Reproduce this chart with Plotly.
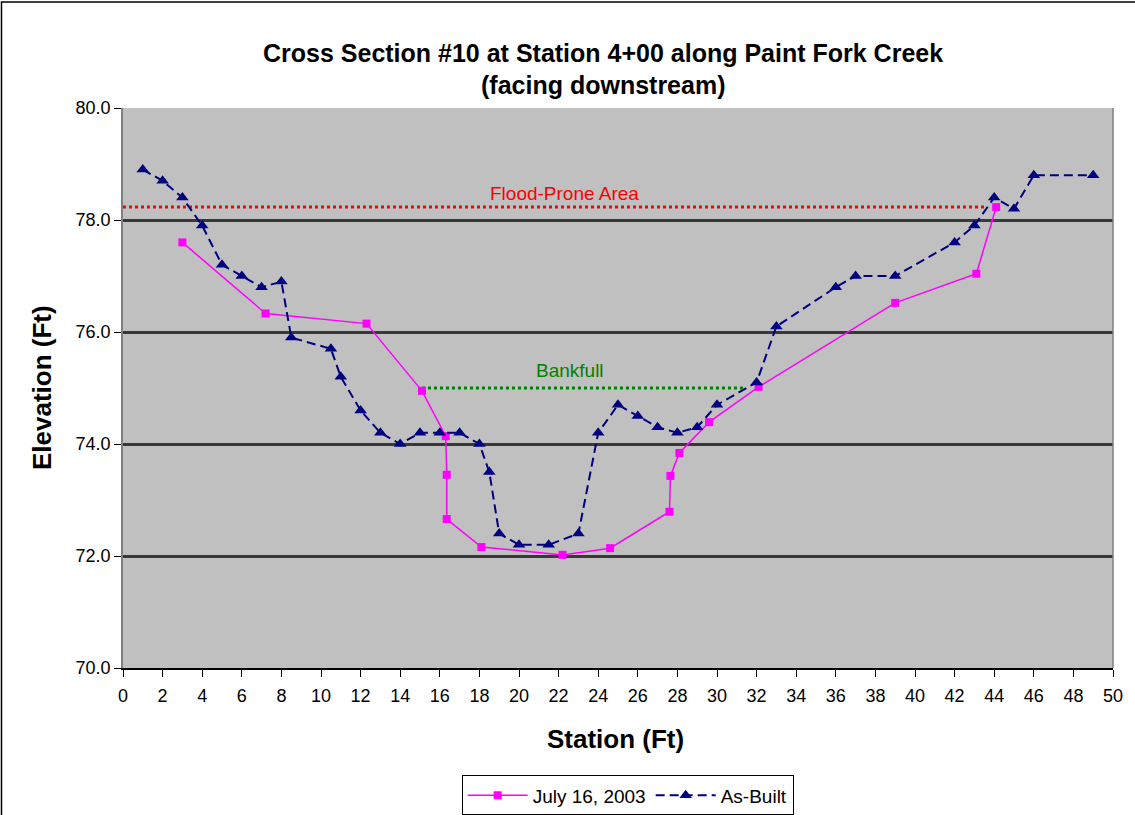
import plotly.graph_objects as go

# Survey of July 16, 2003
july_station = [3.0, 7.2, 12.3, 15.1, 16.3, 16.35, 16.35, 18.1, 22.2, 24.6,
                27.6, 27.65, 28.1, 29.6, 32.1, 39.0, 43.1, 44.1]
july_elev = [77.6, 76.33, 76.15, 74.95, 74.14, 73.45, 72.66, 72.16, 72.02, 72.14,
             72.79, 73.43, 73.84, 74.39, 75.02, 76.52, 77.04, 78.23]

# As-built survey
asbuilt_station = [1, 2, 3, 4, 5, 6, 7, 8, 8.5, 10.5, 11, 12, 13, 14, 15, 16, 17, 18,
                   18.5, 19, 20, 21.5, 23, 24, 25, 26, 27, 28, 29, 30, 32, 33, 36,
                   37, 39, 42, 43, 44, 45, 46, 49]
asbuilt_elev = [78.9, 78.7, 78.4, 77.9, 77.2, 77.0, 76.8, 76.9, 75.9, 75.7, 75.2, 74.6,
                74.2, 74.0, 74.2, 74.2, 74.2, 74.0, 73.5, 72.4, 72.2, 72.2, 72.4, 74.2,
                74.7, 74.5, 74.3, 74.2, 74.3, 74.7, 75.1, 76.1, 76.8, 77.0, 77.0, 77.6,
                77.9, 78.4, 78.2, 78.8, 78.8]

# Reference elevations
flood_station = [0, 43.6]
flood_elev = [78.23, 78.23]
bankfull_station = [15.1, 31.4]
bankfull_elev = [75.0, 75.0]

x_ticks = list(range(0, 51, 2))
y_ticks = [70, 72, 74, 76, 78, 80]

FONT = "Liberation Sans, Arial, sans-serif"

fig = go.Figure()

fig.add_trace(go.Scatter(
    x=flood_station, y=flood_elev, mode="lines", showlegend=False,
    line=dict(color="#FF0000", width=3, dash="dot"), hoverinfo="skip"))
fig.add_trace(go.Scatter(
    x=bankfull_station, y=bankfull_elev, mode="lines", showlegend=False,
    line=dict(color="#008000", width=3, dash="dot"), hoverinfo="skip"))

fig.add_trace(go.Scatter(
    x=july_station, y=july_elev, mode="lines+markers", name="July 16, 2003",
    line=dict(color="#FF00FF", width=1.5),
    marker=dict(symbol="square", size=8, color="#FF00FF")))
fig.add_trace(go.Scatter(
    x=asbuilt_station, y=asbuilt_elev, mode="lines+markers", name="As-Built",
    line=dict(color="#000080", width=2, dash="9px,5px"),
    marker=dict(symbol="triangle-up", size=11, color="#000080")))

fig.add_annotation(x=22.3, y=78.23, yshift=14, text="Flood-Prone Area", showarrow=False,
                   font=dict(family=FONT, size=19, color="#FF0000"))
fig.add_annotation(x=22.6, y=75.0, yshift=18, text="Bankfull", showarrow=False,
                   font=dict(family=FONT, size=19, color="#008000"))

# Titles
fig.add_annotation(xref="paper", yref="paper", x=0.485, y=1.0, yshift=55,
                   yanchor="middle", xanchor="center",
                   text="<b>Cross Section #10 at Station 4+00 along Paint Fork Creek</b>",
                   showarrow=False, font=dict(family=FONT, size=25, color="black"))
fig.add_annotation(xref="paper", yref="paper", x=0.485, y=1.0, yshift=23,
                   yanchor="middle", xanchor="center",
                   text="<b>(facing downstream)</b>",
                   showarrow=False, font=dict(family=FONT, size=25, color="black"))
fig.add_annotation(xref="paper", yref="paper", x=0.497, y=0, yshift=-71,
                   yanchor="middle", xanchor="center",
                   text="<b>Station (Ft)</b>", showarrow=False,
                   font=dict(family=FONT, size=26, color="black"))
fig.add_annotation(xref="paper", yref="paper", x=0, xshift=-81, y=0.5,
                   yanchor="middle", xanchor="center",
                   text="<b>Elevation (Ft)</b>", showarrow=False, textangle=-90,
                   font=dict(family=FONT, size=26, color="black"))

# Chart border
fig.add_shape(type="rect", xref="paper", yref="paper",
              x0=-122 / 994, x1=1133 / 994, y0=-160 / 560, y1=1 + 106 / 560,
              line=dict(color="black", width=1.5), layer="below")

fig.update_layout(
    width=1135, height=815,
    margin=dict(l=123, r=18, t=108, b=147),
    paper_bgcolor="white", plot_bgcolor="#C0C0C0",
    font=dict(family=FONT, size=18, color="black"),
    showlegend=True,
    legend=dict(orientation="h", xref="container", yref="container",
                x=0.553, xanchor="center", y=0.024, yanchor="middle",
                bordercolor="black", borderwidth=1, bgcolor="white",
                font=dict(family=FONT, size=19), itemwidth=60),
    xaxis=dict(range=[0, 50], tickvals=x_ticks, showgrid=False, zeroline=False,
               ticks="outside", ticklen=7, tickcolor="black", showline=True,
               linecolor="black", linewidth=1.5, mirror=False,
               ticklabelstandoff=4, tickfont=dict(size=18)),
    yaxis=dict(range=[70, 80], tickvals=y_ticks, tickformat=".1f", showgrid=True,
               gridcolor="#383838", gridwidth=2.5, zeroline=False,
               ticks="outside", ticklen=7, tickcolor="black", showline=True,
               linecolor="#808080", linewidth=1.5, tickfont=dict(size=18)),
)

# Right edge of the plot area
fig.add_shape(type="line", xref="paper", yref="paper", x0=1, x1=1, y0=0, y1=1,
              line=dict(color="#808080", width=1.5))

fig.write_html("out.html")
